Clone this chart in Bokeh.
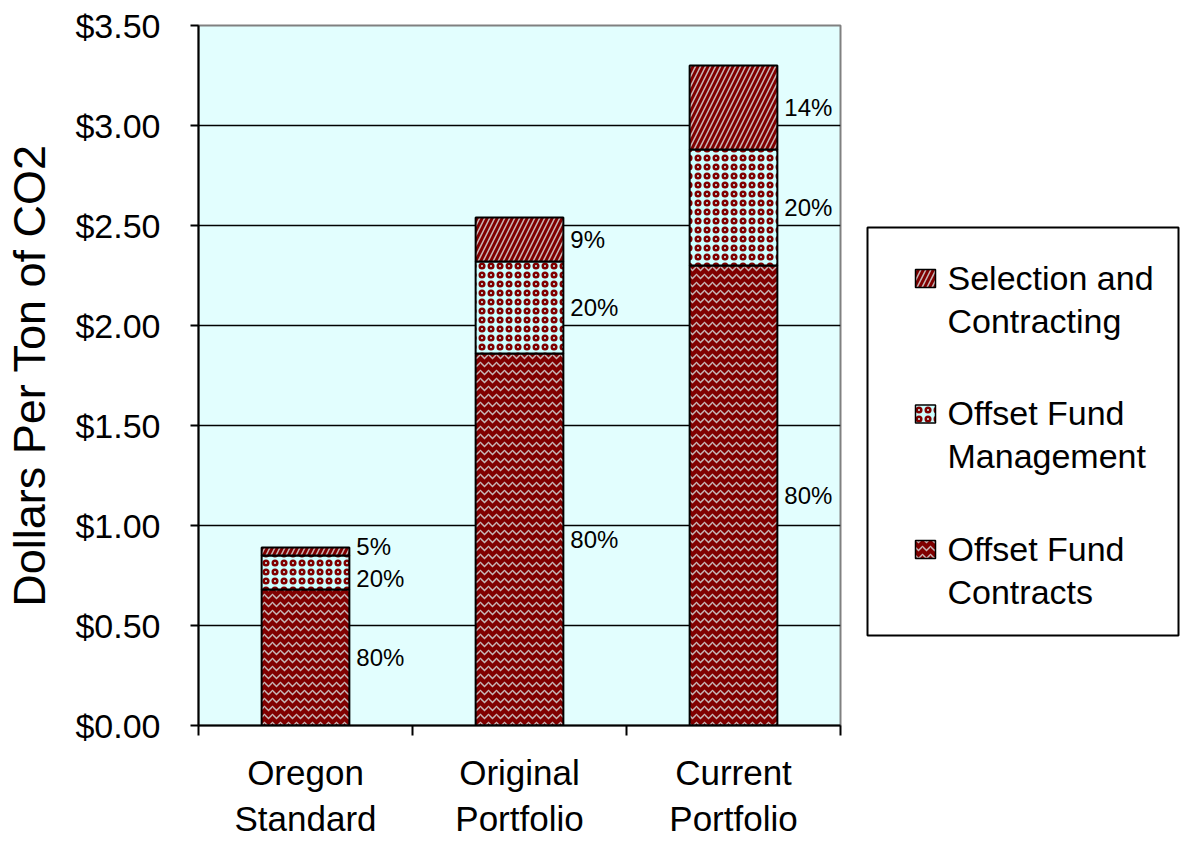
from bokeh.plotting import figure
from bokeh.models import (ColumnDataSource, Range1d, LinearAxis,
                          FixedTicker, NumeralTickFormatter)
from bokeh.layouts import row
from bokeh.embed import file_html
from bokeh.resources import INLINE
from bokeh.core.properties import value

# ---------------- data ----------------
categories = ["Oregon Standard", "Original Portfolio", "Current Portfolio"]
category_labels = ["Oregon\nStandard", "Original\nPortfolio", "Current\nPortfolio"]
series = ["Offset Fund Contracts", "Offset Fund Management", "Selection and Contracting"]
legend_labels = ["Offset Fund\nContracts", "Offset Fund\nManagement", "Selection and\nContracting"]
contracts = [0.68, 1.86, 2.30]
management = [0.17, 0.46, 0.58]
selection = [0.04, 0.22, 0.42]
contracts_pct = ["80%", "80%", "80%"]
management_pct = ["20%", "20%", "20%"]
selection_pct = ["5%", "9%", "14%"]
y_ticks = [0.0, 0.5, 1.0, 1.5, 2.0, 2.5, 3.0, 3.5]
y_title = "Dollars Per Ton of CO2"

# ---------------- styles ----------------
FONT = "Liberation Sans"
DARK = "#800000"
styles = [
    dict(fill_color=DARK, hatch_pattern="horizontal_wave", hatch_color="#c8b8b8", hatch_scale=8, hatch_weight=1.5),
    dict(fill_color="#ccffff", hatch_pattern="ring", hatch_color=DARK, hatch_scale=9, hatch_weight=2.5),
    dict(fill_color=DARK, hatch_pattern="right_diagonal_line", hatch_color="#c8b8b8", hatch_scale=10, hatch_weight=1.5),
]

n = len(categories)
centers = [i + 0.5 for i in range(n)]          # category slot centres on the axis
bounds = [float(i) for i in range(n + 1)]       # category slot boundaries (tick marks)
keys = ["contracts", "management", "selection"]
source = ColumnDataSource(dict(x=centers, cat=categories, contracts=contracts,
                               management=management, selection=selection))

p = figure(x_range=Range1d(0, n), y_range=Range1d(0, 3.5), width=842, height=842,
           output_backend="svg", toolbar_location=None,
           x_axis_location=None, y_axis_location="left",
           min_border_left=198, min_border_right=2, min_border_top=25, min_border_bottom=117,
           background_fill_color="#e2fefe", border_fill_color="white",
           outline_line_color="#808080", outline_line_width=2)

BAR_W = 0.41
p.vbar_stack(keys, x="x", width=BAR_W, source=source,
             fill_color=[s["fill_color"] for s in styles],
             hatch_pattern=[s["hatch_pattern"] for s in styles],
             hatch_color=[s["hatch_color"] for s in styles],
             hatch_scale=[s["hatch_scale"] for s in styles],
             hatch_weight=[s["hatch_weight"] for s in styles],
             line_color="black", line_width=2)

# ---- data labels (segment midpoints, small segments spread apart) ----
values = [contracts, management, selection]
pcts = [contracts_pct, management_pct, selection_pct]
lx, ly, lt = [], [], []
MIN_GAP = 0.16
for i in range(n):
    bottom = 0.0
    ys = []
    for v in values:
        ys.append(bottom + v[i] / 2.0)
        bottom += v[i]
    for _ in range(3):
        for j in range(1, len(ys)):
            if ys[j] - ys[j - 1] < MIN_GAP:
                mid = (ys[j] + ys[j - 1]) / 2.0
                ys[j - 1] = mid - MIN_GAP / 2.0
                ys[j] = mid + MIN_GAP / 2.0
    for j, pc in enumerate(pcts):
        lx.append(centers[i] + BAR_W / 2.0)
        ly.append(ys[j])
        lt.append(pc[i])
p.text(x=lx, y=ly, text=lt, x_offset=7, text_align="left", text_baseline="middle",
       text_font=value(FONT), text_font_size="24px", text_color="black")

# ---- axes ----
p.yaxis.ticker = FixedTicker(ticks=y_ticks)
p.yaxis.formatter = NumeralTickFormatter(format="$0.00")
p.yaxis.major_label_text_font = FONT
p.yaxis.major_label_text_font_size = "34px"
p.yaxis.major_label_text_color = "black"
p.yaxis.major_tick_out = 8
p.yaxis.major_tick_in = 0
p.yaxis.minor_tick_out = 0
p.yaxis.minor_tick_in = 0
p.yaxis.axis_line_width = 2
p.yaxis.major_tick_line_width = 2
p.yaxis.major_label_standoff = 30
p.yaxis.axis_label = y_title
p.yaxis.axis_label_text_font = FONT
p.yaxis.axis_label_text_font_size = "45px"
p.yaxis.axis_label_text_font_style = "normal"
p.yaxis.axis_label_text_color = "black"
p.yaxis.axis_label_standoff = 17

# one x axis: labels at slot centres (major ticks, zero length), tick marks at slot bounds (minor)
cat_axis = LinearAxis(ticker=FixedTicker(ticks=centers, minor_ticks=bounds),
                      axis_line_width=2, axis_line_color="black",
                      major_tick_out=0, major_tick_in=0,
                      minor_tick_out=10, minor_tick_in=0, minor_tick_line_width=2,
                      minor_tick_line_color="black",
                      major_label_standoff=17,
                      major_label_overrides={c: lab for c, lab in zip(centers, category_labels)},
                      major_label_text_font=FONT, major_label_text_font_size="35px",
                      major_label_text_color="black", major_label_text_line_height=1.2)
p.add_layout(cat_axis, "below")

p.ygrid.grid_line_color = "black"
p.ygrid.grid_line_width = 1.5
p.xgrid.grid_line_color = None

# ---------------- legend panel ----------------
# the row aligns this panel's frame with the main frame (25..725 px), so map page pixels onto it
leg = figure(width=341, height=842, x_range=Range1d(842, 1183), y_range=Range1d(725, 25),
             output_backend="svg", toolbar_location=None,
             x_axis_location=None, y_axis_location=None,
             min_border_left=0, min_border_right=0, min_border_top=25, min_border_bottom=117,
             outline_line_color=None, background_fill_color="white",
             border_fill_color="white")
leg.grid.visible = False
leg.quad(left=867, right=1178, top=227, bottom=635, fill_color="white", line_color="black", line_width=2)
order = [2, 1, 0]
for k, si in enumerate(order):
    cy = 278 + 135.5 * k
    st = styles[si]
    leg.rect(x=[925], y=[cy], width=20, height=18, line_color="black", line_width=1.5, **st)
    lines = legend_labels[si].split("\n")
    for li, line in enumerate(lines):
        leg.text(x=[947], y=[cy - 1 + 43 * li], text=[line], text_align="left",
                 text_baseline="middle", text_font=value(FONT), text_font_size="34px",
                 text_color="black")

layout = row(p, leg, spacing=0)
open("out.html", "w").write(file_html(layout, INLINE))
